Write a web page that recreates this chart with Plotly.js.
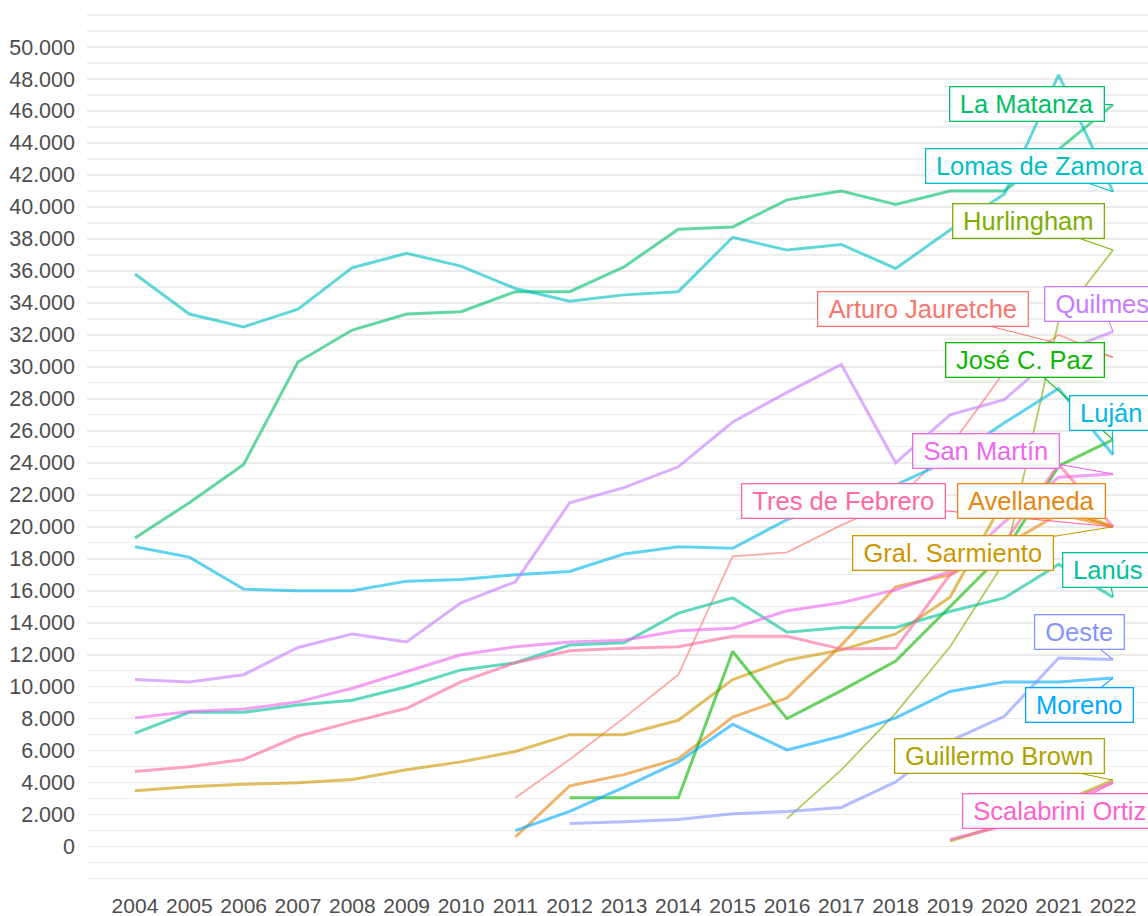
<!DOCTYPE html>
<html><head><meta charset="utf-8">
<script src="https://cdn.plot.ly/plotly-3.0.1.min.js"></script>
<style>html,body{margin:0;padding:0;background:#fff}#chart{width:1148px;height:916px}</style>
</head><body><div id="chart"></div>
<script>
// ---------- DATA ----------
const years = [2004,2005,2006,2007,2008,2009,2010,2011,2012,2013,2014,2015,2016,2017,2018,2019,2020,2021,2022];

const arturoJauretche = [null,null,null,null,null,null,null,3050,5450,8050,10750,18150,18400,20100,21600,25000,29700,32000,30600];
const avellaneda      = [null,null,null,null,null,null,null,600,3800,4500,5500,8100,9300,12600,16250,17000,18800,20800,20000];
const gralSarmiento   = [3500,3750,3900,4000,4200,4800,5300,5950,7000,7000,7900,10450,11650,12300,13300,15600,21700,21300,20000];
const guillermoBrown  = [null,null,null,null,null,null,null,null,null,null,null,null,null,null,null,350,1400,2700,4150];
const hurlingham      = [null,null,null,null,null,null,null,null,null,null,null,null,1750,4800,8350,12500,17800,32900,37300];
const joseCPaz        = [null,null,null,null,null,null,null,null,3050,3050,3050,12200,8000,9750,11600,15000,18400,23800,25450];
const laMatanza       = [19300,21500,23900,30300,32300,33300,33450,34700,34700,36250,38600,38750,40440,41000,40150,41000,41000,43600,46400];
const lanus           = [7100,8400,8400,8850,9150,10000,11050,11500,12600,12750,14600,15550,13400,13700,13700,14700,15550,17650,15600];
const lomasDeZamora   = [35800,33300,32500,33600,36200,37100,36300,34900,34100,34500,34700,38100,37300,37650,36150,38550,40800,48250,40950];
const lujan           = [18750,18100,16100,16000,16000,16600,16700,17000,17200,18300,18750,18650,20450,21500,22600,24200,26500,28650,24500];
const moreno          = [null,null,null,null,null,null,null,1000,2200,3700,5300,7650,6050,6900,8050,9700,10300,10300,10550];
const oeste           = [null,null,null,null,null,null,null,null,1450,1550,1700,2050,2200,2450,4050,6600,8150,11800,11700];
const quilmes         = [10450,10300,10750,12450,13300,12800,15250,16550,21500,22450,23750,26550,28400,30150,24000,27000,27950,30900,32200];
const sanMartin       = [8050,8450,8600,9050,9900,10950,12000,12500,12800,12900,13500,13650,14750,15250,16050,17200,20300,23100,23300];
const scalabriniOrtiz = [null,null,null,null,null,null,null,null,null,null,null,null,null,null,null,450,1300,2600,4000];
const tresDeFebrero   = [4700,5000,5450,6900,7800,8650,10300,11500,12250,12400,12500,13150,13150,12350,12400,17000,19000,23900,20000];

const yTickVals = [0,2000,4000,6000,8000,10000,12000,14000,16000,18000,20000,22000,24000,26000,28000,30000,32000,34000,36000,38000,40000,42000,44000,46000,48000,50000];

const series = [
  {name:'Arturo Jauretche', values:arturoJauretche},
  {name:'Avellaneda',       values:avellaneda},
  {name:'Gral. Sarmiento',  values:gralSarmiento},
  {name:'Guillermo Brown',  values:guillermoBrown},
  {name:'Hurlingham',       values:hurlingham},
  {name:'José C. Paz',      values:joseCPaz},
  {name:'La Matanza',       values:laMatanza},
  {name:'Lanús',            values:lanus},
  {name:'Lomas de Zamora',  values:lomasDeZamora},
  {name:'Luján',            values:lujan},
  {name:'Moreno',           values:moreno},
  {name:'Oeste',            values:oeste},
  {name:'Quilmes',          values:quilmes},
  {name:'San Martín',       values:sanMartin},
  {name:'Scalabrini Ortiz', values:scalabriniOrtiz},
  {name:'Tres de Febrero',  values:tresDeFebrero}
];

// ---------- STYLE ----------
const colors = ['#F8766D','#E68613','#CD9600','#ABA300','#7CAE00','#0CB702','#00BE67','#00C19A',
                '#00BFC4','#00B8E7','#00A9FF','#8494FF','#C77CFF','#ED68ED','#FF61CC','#FF68A1'];
const lineWidths = {'Arturo Jauretche':1.8,'Hurlingham':1.8};
// label box centres (data coordinates)
const labelPos = {
  'La Matanza':[2020.41,46440], 'Lomas de Zamora':[2020.65,42560], 'Hurlingham':[2020.45,39125],
  'Arturo Jauretche':[2018.51,33594], 'Quilmes':[2021.80,33940], 'José C. Paz':[2020.38,30406],
  'Luján':[2021.98,27125], 'San Martín':[2019.67,24719], 'Tres de Febrero':[2017.04,21594],
  'Avellaneda':[2020.50,21594], 'Gral. Sarmiento':[2019.06,18375], 'Lanús':[2021.91,17312],
  'Oeste':[2021.38,13406], 'Moreno':[2021.39,8875], 'Guillermo Brown':[2019.91,5656],
  'Scalabrini Ortiz':[2021.02,2250]
};

const FONT = '"Liberation Sans", Arial, sans-serif';
const LABEL_SIZE = 25.5;
const cv = document.createElement('canvas').getContext('2d');
cv.font = LABEL_SIZE + 'px "Liberation Sans"';

const traces = series.map((s,i)=>({
  type:'scatter', mode:'lines', x:years, y:s.values, name:s.name,
  line:{color:colors[i], width:lineWidths[s.name]||3}, opacity:0.62,
  connectgaps:false, hoverinfo:'skip', showlegend:false
}));

// pass 1: connector segments (drawn beneath all label boxes)
const segs = series.map((s,i)=>{
  const last = s.values.length-1, p = labelPos[s.name];
  return {x:years[last], y:s.values[last], xref:'x', yref:'y', ax:p[0], ay:p[1], axref:'x', ayref:'y',
    text:' ', showarrow:true, arrowhead:0, arrowwidth:1.1, arrowcolor:colors[i], standoff:0,
    font:{size:2}, borderwidth:0, borderpad:0};
});
// pass 2: label boxes
const labels = series.map((s,i)=>{
  const p = labelPos[s.name];
  return {x:p[0], y:p[1], xref:'x', yref:'y', showarrow:false, text:s.name,
    xanchor:'center', yanchor:'middle',
    font:{family:FONT, size:LABEL_SIZE, color:colors[i]},
    bgcolor:'#ffffff', bordercolor:colors[i], borderwidth:1.3, borderpad:2,
    width:Math.round(cv.measureText(s.name).width)+16, height:29, align:'center'};
});

const layout = {
  width:1148, height:916,
  margin:{l:87, r:0, t:7, b:31},
  paper_bgcolor:'#fff', plot_bgcolor:'#fff',
  separators:',.',
  font:{family:FONT, color:'#4D4D4D'},
  xaxis:{range:[2003.117,2022.644], tickvals:years, showgrid:false, zeroline:false, showline:false,
         ticks:'', tickfont:{size:21, color:'#4D4D4D'}, ticklabelstandoff:6, fixedrange:true},
  yaxis:{range:[-2400,52500], tickvals:yTickVals, tickformat:',d', showgrid:true, gridcolor:'#EBEBEB', gridwidth:1.6,
         zeroline:false, showline:false, ticks:'', tickfont:{size:21.5, color:'#4D4D4D'}, ticklabelstandoff:11,
         minor:{dtick:1000, tick0:0, showgrid:true, gridcolor:'#EEEEEE', gridwidth:1.3}, fixedrange:true},
  annotations:segs.concat(labels),
  showlegend:false, hovermode:false
};

Plotly.newPlot('chart', traces, layout, {staticPlot:true, displayModeBar:false});
</script></body></html>
